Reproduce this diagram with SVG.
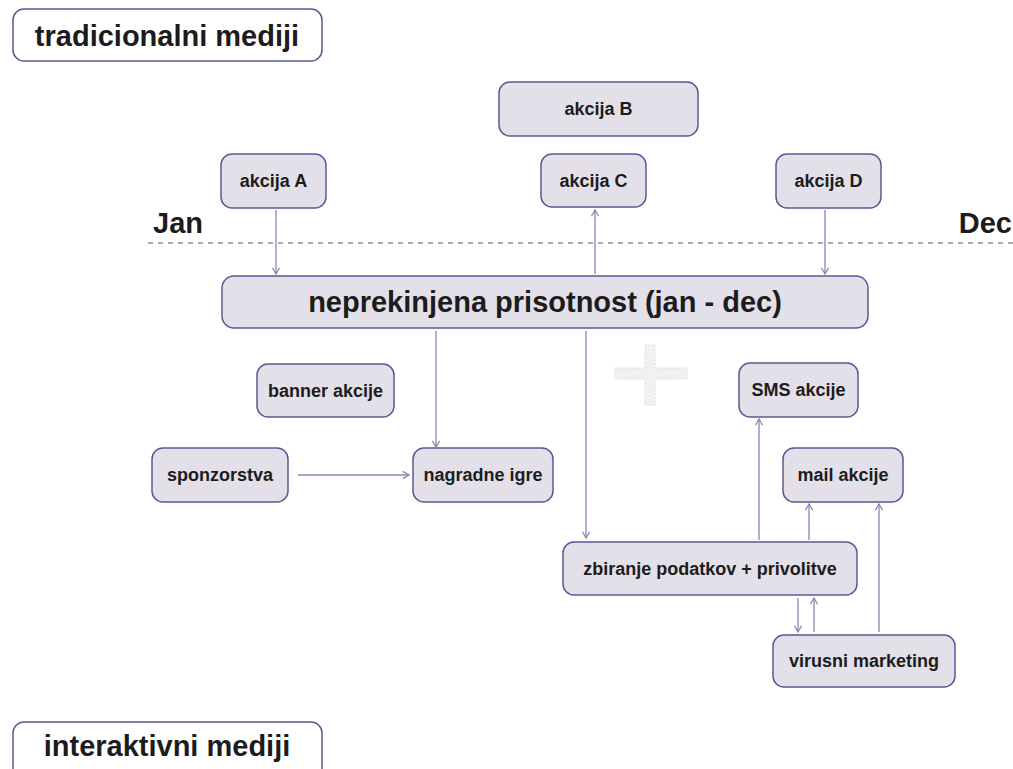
<svg xmlns="http://www.w3.org/2000/svg" width="1013" height="769" viewBox="0 0 1013 769">
<defs>
<style>
.n{fill:#e4e0e9;stroke:#5d5893;stroke-width:1.5}
.h{fill:#ffffff;stroke:#5d5893;stroke-width:1.5}
.t{font-family:"Liberation Sans",Arial,sans-serif;font-weight:bold;font-size:18px;fill:#1c1c1c;text-anchor:middle}
.big{font-size:29px}
.c{stroke:#8a84b2;stroke-width:1.3;fill:none}
</style>
<marker id="ah" viewBox="0 0 10 10" refX="9" refY="5" markerWidth="9" markerHeight="9" markerUnits="userSpaceOnUse" orient="auto">
<path d="M2,1 L9,5 L2,9" fill="none" stroke="#8a84b2" stroke-width="1.4"/>
</marker>
</defs>
<rect width="1013" height="769" fill="#ffffff"/>

<g id="tradicionalni">
<rect class="h" x="13" y="9" width="309" height="52" rx="11"/>
<text class="t big" x="167" y="46">tradicionalni mediji</text>
</g>
<g id="interaktivni">
<rect class="h" x="13" y="722" width="309" height="60" rx="11"/>
<text class="t big" x="167" y="756">interaktivni mediji</text>
</g>

<g id="timeline">
<line x1="148" y1="243" x2="1013" y2="243" stroke="#aaaab2" stroke-width="2" stroke-dasharray="5 5"/>
<text class="t big" x="153" y="233" style="text-anchor:start">Jan</text>
<text class="t big" x="1012" y="233" style="text-anchor:end">Dec</text>
</g>

<g id="plus">
<path d="M645,345 H655 V368 H687 V379 H655 V405 H645 V379 H615 V368 H645 Z" fill="#f1f1f3" stroke="#dcdce0" stroke-width="1" stroke-dasharray="2 1.5"/>
</g>

<g id="connectors">
<line class="c" x1="276" y1="210" x2="276" y2="274" marker-end="url(#ah)"/>
<line class="c" x1="595" y1="274" x2="595" y2="210" marker-end="url(#ah)"/>
<line class="c" x1="825" y1="210" x2="825" y2="274" marker-end="url(#ah)"/>
<line class="c" x1="436" y1="331" x2="436" y2="447" marker-end="url(#ah)"/>
<line class="c" x1="298" y1="475" x2="409" y2="475" marker-end="url(#ah)"/>
<line class="c" x1="586" y1="331" x2="586" y2="538" marker-end="url(#ah)"/>
<line class="c" x1="759" y1="540" x2="759" y2="419" marker-end="url(#ah)"/>
<line class="c" x1="809" y1="540" x2="809" y2="504" marker-end="url(#ah)"/>
<line class="c" x1="879" y1="632" x2="879" y2="504" marker-end="url(#ah)"/>
<line class="c" x1="798" y1="598" x2="798" y2="632" marker-end="url(#ah)"/>
<line class="c" x1="814" y1="632" x2="814" y2="598" marker-end="url(#ah)"/>
</g>

<g id="akcijaA"><rect class="n" x="221" y="154" width="105" height="54" rx="11"/><text class="t" x="273.5" y="187">akcija A</text></g>
<g id="akcijaB"><rect class="n" x="499" y="82" width="199" height="54" rx="11"/><text class="t" x="598.5" y="115">akcija B</text></g>
<g id="akcijaC"><rect class="n" x="541" y="154" width="105" height="53" rx="11"/><text class="t" x="593.5" y="187">akcija C</text></g>
<g id="akcijaD"><rect class="n" x="776" y="154" width="105" height="54" rx="11"/><text class="t" x="828.5" y="187">akcija D</text></g>
<g id="neprekinjena"><rect class="n" x="222" y="276" width="646" height="52" rx="12"/><text class="t big" x="545" y="312">neprekinjena prisotnost (jan - dec)</text></g>
<g id="banner"><rect class="n" x="257" y="364" width="137" height="53" rx="11"/><text class="t" x="325.5" y="396.5">banner akcije</text></g>
<g id="sponzorstva"><rect class="n" x="152" y="448" width="136" height="54" rx="11"/><text class="t" x="220" y="481">sponzorstva</text></g>
<g id="nagradne"><rect class="n" x="413" y="448" width="140" height="54" rx="11"/><text class="t" x="483" y="481">nagradne igre</text></g>
<g id="sms"><rect class="n" x="739" y="363" width="119" height="54" rx="11"/><text class="t" x="798.5" y="396">SMS akcije</text></g>
<g id="mail"><rect class="n" x="783" y="448" width="120" height="54" rx="11"/><text class="t" x="843" y="481">mail akcije</text></g>
<g id="zbiranje"><rect class="n" x="563" y="542" width="294" height="53" rx="11"/><text class="t" x="710" y="575">zbiranje podatkov + privolitve</text></g>
<g id="virusni"><rect class="n" x="773" y="635" width="182" height="52" rx="11"/><text class="t" x="864" y="667">virusni marketing</text></g>
</svg>
